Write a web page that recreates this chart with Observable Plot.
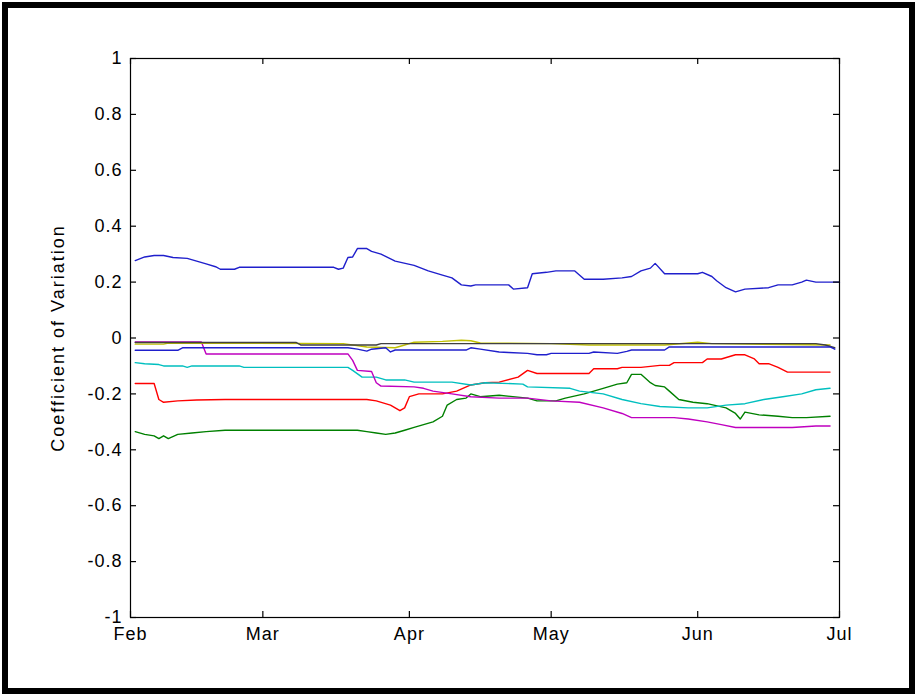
<!DOCTYPE html>
<html><head><meta charset="utf-8">
<script src="https://cdn.jsdelivr.net/npm/d3@7"></script>
<script src="https://cdn.jsdelivr.net/npm/@observablehq/plot@0.6"></script>
<style>
html,body{margin:0;padding:0;background:#fff;}
#wrap{position:relative;width:917px;height:694px;overflow:hidden;}
#border{position:absolute;left:2px;top:2px;width:913px;height:692px;border:6px solid #000;box-sizing:border-box;pointer-events:none;}
</style></head><body><div id="wrap"><div id="border"></div></div>
<script>
const year = "2009";
const xTickLabels = ["02-01","03-01","04-01","05-01","06-01","07-01"];
const yTicks = [-1,-0.8,-0.6,-0.4,-0.2,0,0.2,0.4,0.6,0.8,1];
const yLabel = "Coefficient of Variation";

const blueTop = [["02-02",0.277],["02-04",0.29],["02-06",0.295],["02-08",0.295],["02-10",0.288],["02-13",0.285],["02-15",0.275],["02-17",0.265],["02-19",0.255],["02-20",0.246],["02-23",0.246],["02-24",0.253],["03-16",0.253],["03-17",0.246],["03-18",0.25],["03-19",0.288],["03-20",0.29],["03-21",0.32],["03-23",0.32],["03-24",0.31],["03-26",0.30],["03-29",0.275],["04-02",0.26],["04-05",0.24],["04-08",0.225],["04-10",0.215],["04-12",0.19],["04-14",0.186],["04-15",0.19],["04-22",0.19],["04-23",0.175],["04-26",0.18],["04-27",0.23],["04-30",0.235],["05-02",0.24],["05-06",0.24],["05-08",0.21],["05-12",0.21],["05-16",0.215],["05-18",0.22],["05-20",0.24],["05-22",0.25],["05-23",0.267],["05-25",0.23],["06-01",0.23],["06-02",0.235],["06-04",0.22],["06-05",0.205],["06-07",0.18],["06-09",0.165],["06-11",0.175],["06-16",0.18],["06-18",0.19],["06-21",0.19],["06-23",0.2],["06-24",0.207],["06-26",0.2],["07-01",0.2]];

const green = [["02-02",-0.335],["02-04",-0.345],["02-06",-0.35],["02-07",-0.36],["02-08",-0.35],["02-09",-0.36],["02-11",-0.345],["02-14",-0.34],["02-17",-0.335],["02-21",-0.33],["03-21",-0.33],["03-23",-0.335],["03-25",-0.34],["03-27",-0.345],["03-29",-0.34],["03-31",-0.33],["04-02",-0.32],["04-04",-0.31],["04-06",-0.3],["04-08",-0.28],["04-09",-0.24],["04-11",-0.22],["04-13",-0.215],["04-14",-0.2],["04-16",-0.21],["04-20",-0.205],["04-26",-0.215],["04-28",-0.225],["05-02",-0.225],["05-04",-0.215],["05-08",-0.2],["05-12",-0.18],["05-15",-0.165],["05-17",-0.16],["05-18",-0.13],["05-20",-0.13],["05-21",-0.145],["05-22",-0.16],["05-23",-0.17],["05-25",-0.175],["05-26",-0.19],["05-28",-0.22],["05-31",-0.23],["06-03",-0.235],["06-07",-0.25],["06-09",-0.27],["06-10",-0.29],["06-11",-0.265],["06-14",-0.275],["06-18",-0.28],["06-21",-0.285],["06-24",-0.285],["06-29",-0.28]];

const red = [["02-02",-0.163],["02-06",-0.163],["02-07",-0.22],["02-08",-0.23],["02-11",-0.225],["02-15",-0.222],["02-21",-0.22],["03-23",-0.22],["03-25",-0.225],["03-28",-0.24],["03-30",-0.26],["03-31",-0.25],["04-01",-0.21],["04-03",-0.2],["04-08",-0.2],["04-11",-0.19],["04-14",-0.168],["04-17",-0.16],["04-20",-0.158],["04-24",-0.14],["04-26",-0.116],["04-28",-0.127],["05-09",-0.127],["05-10",-0.11],["05-15",-0.11],["05-16",-0.105],["05-20",-0.105],["05-24",-0.098],["05-26",-0.098],["05-27",-0.088],["06-02",-0.088],["06-03",-0.075],["06-06",-0.075],["06-09",-0.06],["06-11",-0.06],["06-13",-0.075],["06-14",-0.092],["06-16",-0.092],["06-18",-0.105],["06-20",-0.122],["06-29",-0.122]];

const cyan = [["02-02",-0.088],["02-04",-0.092],["02-07",-0.095],["02-08",-0.1],["02-12",-0.1],["02-13",-0.105],["02-14",-0.1],["02-24",-0.1],["02-25",-0.105],["03-19",-0.105],["03-20",-0.116],["03-22",-0.14],["03-25",-0.14],["03-27",-0.15],["03-31",-0.15],["04-02",-0.158],["04-10",-0.158],["04-14",-0.168],["04-17",-0.16],["04-25",-0.165],["04-26",-0.175],["05-05",-0.18],["05-07",-0.19],["05-12",-0.2],["05-16",-0.22],["05-20",-0.235],["05-24",-0.245],["05-30",-0.25],["06-03",-0.25],["06-07",-0.24],["06-11",-0.235],["06-15",-0.22],["06-19",-0.21],["06-23",-0.2],["06-26",-0.185],["06-29",-0.18]];

const magenta = [["02-02",-0.014],["02-16",-0.014],["02-17",-0.057],["03-19",-0.057],["03-20",-0.08],["03-21",-0.116],["03-24",-0.12],["03-25",-0.16],["03-26",-0.172],["04-02",-0.175],["04-04",-0.18],["04-06",-0.19],["04-10",-0.2],["04-14",-0.21],["04-20",-0.215],["04-26",-0.215],["05-01",-0.225],["05-07",-0.23],["05-12",-0.25],["05-16",-0.27],["05-18",-0.285],["05-27",-0.285],["05-30",-0.29],["06-03",-0.3],["06-06",-0.31],["06-09",-0.32],["06-21",-0.32],["06-26",-0.315],["06-29",-0.315]];

const olive = [["02-02",-0.022],["02-08",-0.022],["02-09",-0.018],["03-18",-0.02],["03-23",-0.032],["03-29",-0.035],["03-31",-0.025],["04-02",-0.015],["04-08",-0.012],["04-12",-0.008],["04-14",-0.01],["04-16",-0.018],["05-01",-0.02],["05-09",-0.025],["05-18",-0.025],["05-25",-0.025],["06-01",-0.015],["06-04",-0.02],["06-29",-0.025]];

const gray = [["02-02",-0.016],["03-08",-0.016],["03-09",-0.025],["03-25",-0.025],["03-26",-0.02],["06-26",-0.02],["06-28",-0.025],["06-30",-0.035]];

const blueLow = [["02-02",-0.044],["02-11",-0.044],["02-12",-0.035],["03-19",-0.035],["03-21",-0.04],["03-23",-0.047],["03-24",-0.04],["03-27",-0.035],["03-28",-0.05],["03-29",-0.043],["04-13",-0.043],["04-14",-0.035],["04-16",-0.04],["04-20",-0.05],["04-22",-0.052],["04-26",-0.055],["04-28",-0.06],["04-30",-0.06],["05-01",-0.055],["05-09",-0.055],["05-10",-0.05],["05-15",-0.055],["05-17",-0.048],["05-18",-0.043],["05-25",-0.043],["05-26",-0.032],["06-29",-0.032],["06-30",-0.04]];

const seriesOrder = [
  [blueTop, "#1f1fcc"],
  [green, "#008000"],
  [red, "#ff0000"],
  [cyan, "#00bfbf"],
  [magenta, "#bf00bf"],
  [olive, "#bfbf00"],
  [gray, "#404040"],
  [blueLow, "#1f1fcc"]
];

const parse = d3.utcParse("%Y-%m-%d");
const toDate = md => parse(`${year}-${md}`);
const xTicks = xTickLabels.map(toDate);

const lineMarks = seriesOrder.map(([data, color]) =>
  Plot.line(data, {x: d => toDate(d[0]), y: d => d[1], stroke: color, strokeWidth: 1.4})
);

const chart = Plot.plot({
  width: 917, height: 694,
  marginLeft: 130, marginRight: 78, marginTop: 58, marginBottom: 77,
  style: {fontFamily: "'Liberation Sans', Arial, sans-serif", fontSize: "18px", background: "transparent", color: "#000", letterSpacing: "1px"},
  x: {type: "utc", domain: [xTicks[0], xTicks[xTicks.length - 1]]},
  y: {domain: [-1, 1]},
  marks: [
    ...lineMarks,
    Plot.frame({stroke: "#000", strokeWidth: 1.2}),
    Plot.tickX(xTicks, {x: d => d, insetTop: 553, stroke: "#000", strokeWidth: 1.2}),
    Plot.tickX(xTicks, {x: d => d, insetBottom: 553, stroke: "#000", strokeWidth: 1.2}),
    Plot.tickY(yTicks, {y: d => d, insetRight: 703, stroke: "#000", strokeWidth: 1.2}),
    Plot.tickY(yTicks, {y: d => d, insetLeft: 703, stroke: "#000", strokeWidth: 1.2}),
    Plot.axisX(xTicks, {tickSize: 0, tickPadding: 10, tickFormat: d3.utcFormat("%b"), label: null, fontSize: 18}),
    Plot.axisY(yTicks, {tickSize: 0, tickPadding: 8, tickFormat: d => String(d), label: null, fontSize: 18}),
    Plot.text([yLabel], {frameAnchor: "left", textAnchor: "middle", rotate: -90, dx: -72, fontSize: 18, fill: "#000"})
  ]
});
document.getElementById("wrap").insertBefore(chart, document.getElementById("border"));
chart.querySelectorAll("text").forEach(t => { if (t.textContent === yLabel) t.setAttribute("letter-spacing", "2px"); });
</script>
</body></html>
